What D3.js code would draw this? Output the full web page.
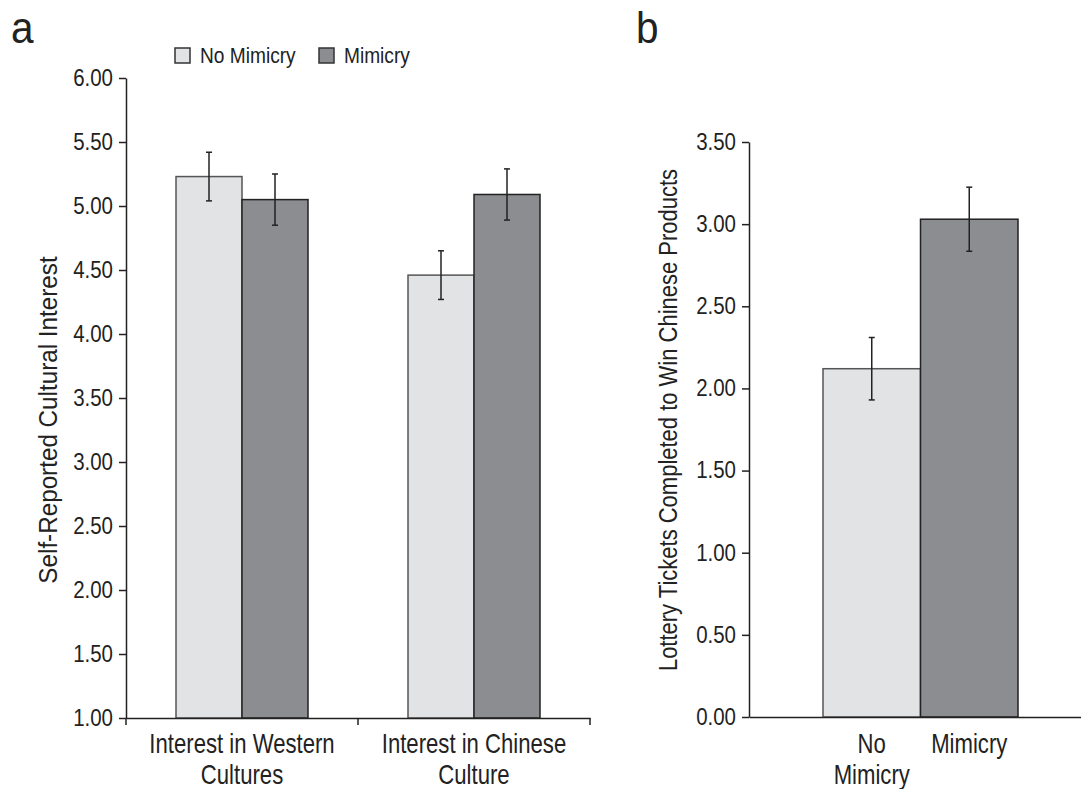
<!DOCTYPE html>
<html>
<head>
<meta charset="utf-8">
<script src="https://cdn.jsdelivr.net/npm/d3@7"></script>
<style>
  body { margin: 0; background: #fff; }
  svg text { font-family: "Liberation Sans", Arial, sans-serif; fill: #222; }
</style>
</head>
<body>
<svg id="chart" width="1081" height="789"></svg>
<script>
// panel a data
const groupsA = ["Interest in Western Cultures", "Interest in Chinese Culture"];
const labelLinesA = [["Interest in Western", "Cultures"], ["Interest in Chinese", "Culture"]];
const conditions = ["No Mimicry", "Mimicry"];
const noMimicryA = [5.23, 4.46];
const mimicryA = [5.05, 5.09];
const noMimicryErrA = [0.19, 0.19];
const mimicryErrA = [0.20, 0.20];
const ticksA = [1.0, 1.5, 2.0, 2.5, 3.0, 3.5, 4.0, 4.5, 5.0, 5.5, 6.0];

// panel b data
const valuesB = [2.12, 3.03];
const errB = [0.19, 0.195];
const labelLinesB = [["No", "Mimicry"], ["Mimicry"]];
const ticksB = [0, 0.5, 1.0, 1.5, 2.0, 2.5, 3.0, 3.5];

const fills = { "No Mimicry": "#e2e3e5", "Mimicry": "#8c8d91" };
const strokes = { "No Mimicry": "#555", "Mimicry": "#222" };

const svg = d3.select("#chart");

// condensed text: the reference uses a narrow grotesque, so squeeze Liberation Sans
function label(g, x, y, str, size, sx, anchor = "middle", rot = 0) {
  return g.append("text")
    .attr("transform", `translate(${x},${y}) rotate(${rot}) scale(${sx},1)`)
    .attr("text-anchor", anchor)
    .style("font-size", size + "px")
    .text(str);
}

function styleAxis(a) {
  a.selectAll(".domain").attr("stroke", "#222").attr("stroke-width", 1.5);
  a.selectAll(".tick line").attr("stroke", "#222").attr("stroke-width", 1.5);
  a.selectAll(".tick text")
    .attr("x", null)
    .attr("transform", "translate(-13,0) scale(0.89,1)")
    .style("font-size", "23px").attr("fill", "#222");
}

function errorBars(g, rows, xf, y, w) {
  const eb = g.selectAll("g.err").data(rows).join("g").attr("class", "err")
    .attr("stroke", "#222").attr("stroke-width", 1.5);
  eb.append("line").attr("x1", xf).attr("x2", xf).attr("y1", d => y(d.v + d.e)).attr("y2", d => y(d.v - d.e));
  eb.append("line").attr("x1", d => xf(d) - w).attr("x2", d => xf(d) + w).attr("y1", d => y(d.v + d.e)).attr("y2", d => y(d.v + d.e));
  eb.append("line").attr("x1", d => xf(d) - w).attr("x2", d => xf(d) + w).attr("y1", d => y(d.v - d.e)).attr("y2", d => y(d.v - d.e));
}

// ---------- panel a ----------
const ya = d3.scaleLinear().domain([1, 6]).range([718, 78]);
const xa = d3.scaleBand().domain(groupsA).range([126, 590]);
const xaInner = d3.scaleBand().domain(conditions).range([0, 132]);
const offA = (xa.bandwidth() - 132) / 2;

const ga = svg.append("g");

const rowsA = [];
groupsA.forEach((g, i) => {
  rowsA.push({ group: g, cond: "No Mimicry", v: noMimicryA[i], e: noMimicryErrA[i] });
  rowsA.push({ group: g, cond: "Mimicry", v: mimicryA[i], e: mimicryErrA[i] });
});

ga.selectAll("rect.bar").data(rowsA).join("rect")
  .attr("class", "bar")
  .attr("x", d => xa(d.group) + offA + xaInner(d.cond))
  .attr("y", d => ya(d.v))
  .attr("width", xaInner.bandwidth())
  .attr("height", d => ya(1) - ya(d.v))
  .attr("fill", d => fills[d.cond])
  .attr("stroke", d => strokes[d.cond])
  .attr("stroke-width", 1.5);

errorBars(ga, rowsA, d => xa(d.group) + offA + xaInner(d.cond) + xaInner.bandwidth() / 2, ya, 3);

const yAxisA = ga.append("g").attr("transform", "translate(126,0)")
  .call(d3.axisLeft(ya).tickValues(ticksA).tickFormat(d3.format(".2f")).tickSize(7).tickSizeOuter(0));
styleAxis(yAxisA);

const xAxisA = ga.append("g").attr("transform", "translate(0,718)")
  .call(d3.axisBottom(xa).tickValues([]).tickSizeOuter(0));
styleAxis(xAxisA);
// category boundary ticks
const boundsA = [xa.range()[0], ...groupsA.map(g => xa(g) + xa.bandwidth())];
xAxisA.selectAll(".xtick").data(boundsA).join("line").attr("class", "xtick")
  .attr("x1", d => d).attr("x2", d => d).attr("y1", 0).attr("y2", 7)
  .attr("stroke", "#222").attr("stroke-width", 1.5);

groupsA.forEach((g, i) => {
  labelLinesA[i].forEach((ln, k) => label(ga, xa(g) + xa.bandwidth() / 2, 753 + k * 31, ln, 27, 0.82));
});

label(ga, 57, 420, "Self-Reported Cultural Interest", 25, 0.97, "middle", -90);
label(ga, 11, 43, "a", 45, 0.9, "start");

// legend
const legendX = [175, 319];
conditions.forEach((c, i) => {
  ga.append("rect").attr("x", legendX[i]).attr("y", 48).attr("width", 15).attr("height", 15)
    .attr("fill", fills[c]).attr("stroke", "#333").attr("stroke-width", 1.5);
  label(ga, legendX[i] + 25, 63, c, 22, 0.87, "start");
});

// ---------- panel b ----------
const yb = d3.scaleLinear().domain([0, 3.5]).range([717, 142]);
const xb = d3.scaleBand().domain(conditions).range([823, 1018]);
const gb = svg.append("g");

const rowsB = conditions.map((c, i) => ({ cond: c, v: valuesB[i], e: errB[i] }));
gb.selectAll("rect.bar").data(rowsB).join("rect")
  .attr("class", "bar")
  .attr("x", d => xb(d.cond))
  .attr("y", d => yb(d.v))
  .attr("width", xb.bandwidth())
  .attr("height", d => yb(0) - yb(d.v))
  .attr("fill", d => fills[d.cond])
  .attr("stroke", d => strokes[d.cond])
  .attr("stroke-width", 1.5);

errorBars(gb, rowsB, d => xb(d.cond) + xb.bandwidth() / 2, yb, 3);

const yAxisB = gb.append("g").attr("transform", "translate(749,0)")
  .call(d3.axisLeft(yb).tickValues(ticksB).tickFormat(d3.format(".2f")).tickSize(7).tickSizeOuter(0));
styleAxis(yAxisB);
const xAxisB = gb.append("g").attr("transform", "translate(0,717)")
  .call(d3.axisBottom(d3.scaleLinear().range([749, 1092])).tickValues([]).tickSizeOuter(0));
styleAxis(xAxisB);

conditions.forEach((c, i) => {
  labelLinesB[i].forEach((ln, k) => label(gb, xb(c) + xb.bandwidth() / 2, 753 + k * 31, ln, 27, 0.82));
});

label(gb, 677, 420, "Lottery Tickets Completed to Win Chinese Products", 25, 0.88, "middle", -90);
label(gb, 636, 43, "b", 45, 0.9, "start");
</script>
</body>
</html>
